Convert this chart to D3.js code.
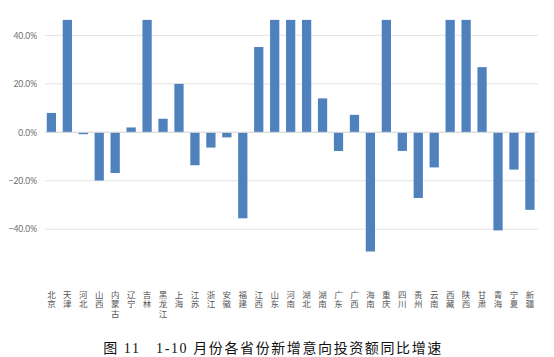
<!DOCTYPE html>
<html><head><meta charset="utf-8">
<script src="https://cdn.jsdelivr.net/npm/d3@7"></script>
<style>
html,body{margin:0;padding:0;background:#fff;}
</style></head>
<body>
<svg id="c" width="554" height="357"></svg>
<script>
const provinces = ["北京","天津","河北","山西","内蒙古","辽宁","吉林","黑龙江","上海","江苏","浙江","安徽","福建","江西","山东","河南","湖北","湖南","广东","广西","海南","重庆","四川","贵州","云南","西藏","陕西","甘肃","青海","宁夏","新疆"];
// values beyond the axis maximum are clipped at the top in the original
const growth = [0.080,0.50,-0.008,-0.199,-0.168,0.020,0.50,0.056,0.200,-0.136,-0.063,-0.021,-0.355,0.352,0.50,0.50,0.50,0.140,-0.077,0.072,-0.492,0.50,-0.077,-0.271,-0.145,0.50,0.50,0.269,-0.405,-0.154,-0.320];
const yTicks = [-0.4,-0.2,0,0.2,0.4];
const caption = "图 11　1-10 月份各省份新增意向投资额同比增速";

const svg = d3.select("#c");
const x = d3.scaleBand().domain(provinces).range([43.4, 537.9]).paddingInner(0.42).paddingOuter(0.21);
const y = d3.scaleLinear().domain([-0.4, 0.4]).range([229.2, 35.4]);
const yMax = 0.464;
const yc = v => y(Math.min(v, yMax));

// gridlines
svg.append("g").selectAll("line").data(yTicks).join("line")
  .attr("x1", 45).attr("x2", 538)
  .attr("y1", d => y(d)).attr("y2", d => y(d))
  .attr("stroke", "#e3e3e3").attr("stroke-width", 1);

// y axis labels
const yAxis = d3.axisLeft(y).tickValues(yTicks).tickFormat(d3.format(".1%")).tickSize(0).tickPadding(0);
const ga = svg.append("g").attr("transform", "translate(37,0)").call(yAxis);
ga.select(".domain").remove();
ga.selectAll("text").attr("fill", "#6b6b6b").style("font-family", "Lato, 'Open Sans', sans-serif").style("font-size", "8.5px");

// bars
svg.append("g").selectAll("rect").data(provinces).join("rect")
  .attr("x", d => x(d))
  .attr("width", x.bandwidth())
  .attr("y", (d, i) => Math.min(yc(growth[i]), y(0)))
  .attr("height", (d, i) => Math.abs(yc(growth[i]) - y(0)))
  .attr("fill", "#4f81bd");

// zero line
svg.append("line").attr("x1", 45).attr("x2", 538).attr("y1", y(0)).attr("y2", y(0))
  .attr("stroke", "#d9d9d9").attr("stroke-width", 1);

// category labels, vertical text
svg.append("g").selectAll("text").data(provinces).join("text")
  .attr("x", d => x(d) + x.bandwidth() / 2)
  .attr("y", 290.5)
  .attr("text-anchor", "start")
  .attr("fill", "#555")
  .style("writing-mode", "vertical-rl")
  .style("text-orientation", "upright")
  .style("letter-spacing", "1px")
  .style("font-family", "'Noto Sans CJK SC', sans-serif")
  .style("font-size", "8.5px")
  .text(d => d);

// caption
svg.append("text").attr("x", 273).attr("y", 353).attr("text-anchor", "middle")
  .attr("fill", "#111")
  .style("font-family", "'Liberation Serif', 'Noto Sans CJK SC', serif")
  .style("font-size", "14px").style("letter-spacing", "1.6px")
  .text(caption);
</script>
</body></html>
